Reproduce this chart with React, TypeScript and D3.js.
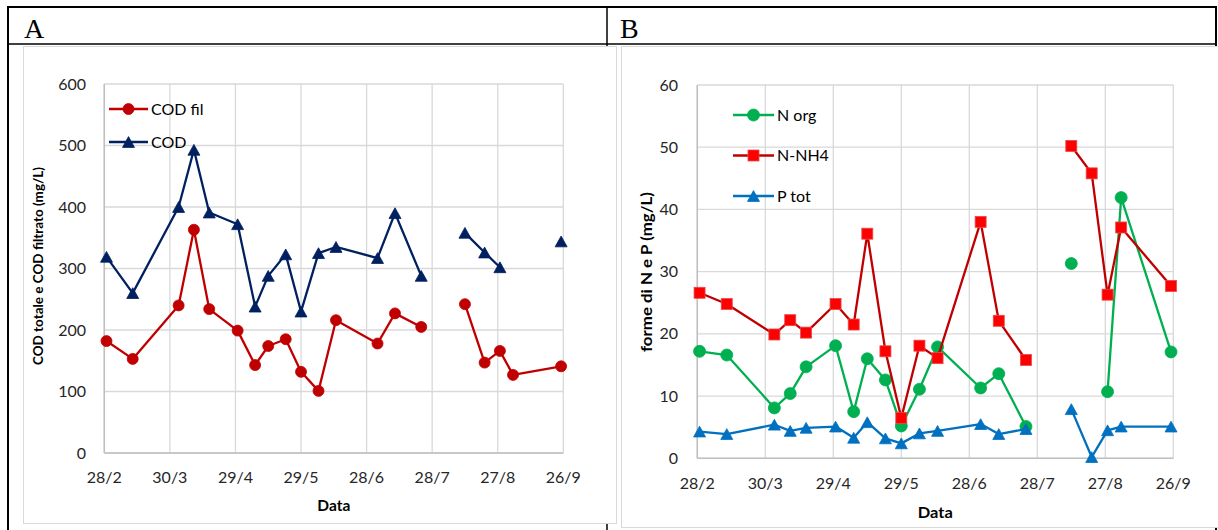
import React from 'react';
import * as d3 from 'd3';

// sampling dates (dd/m, year 2015); "2/8" is an empty row that breaks the lines
const dates = ['1/3', '13/3', '3/4', '10/4', '17/4', '30/4', '8/5', '14/5', '22/5', '29/5', '6/6', '14/6', '3/7', '11/7', '23/7', '2/8', '12/8', '21/8', '28/8', '3/9', '25/9'];
const xTicks = ['28/2', '30/3', '29/4', '29/5', '28/6', '28/7', '27/8', '26/9'];

const codFil = [182, 153, 240, 363, 234, 199, 143, 174, 185, 132, 101, 216, 178, 227, 205, null, 242, 147, 166, 127, 141];
const cod = [319, 260, 400, 493, 391, 372, 238, 288, 323, 230, 325, 335, 317, 390, 288, null, 358, 326, 302, null, 344];

const nOrg = [17.2, 16.6, 8.1, 10.4, 14.7, 18.1, 7.5, 16.0, 12.6, 5.2, 11.1, 17.9, 11.3, 13.6, 5.1, null, 31.3, null, 10.7, 41.9, 17.1];
const nNH4 = [26.6, 24.8, 19.9, 22.2, 20.2, 24.8, 21.5, 36.1, 17.2, 6.5, 18.1, 16.1, 38.0, 22.1, 15.8, null, 50.2, 45.8, 26.3, 37.1, 27.7];
const pTot = [4.3, 3.9, 5.4, 4.4, 4.9, 5.1, 3.3, 5.8, 3.2, 2.4, 4.0, 4.4, 5.5, 3.9, 4.7, null, 7.9, 0.2, 4.5, 5.1, 5.1];

const yTicksA = [0, 100, 200, 300, 400, 500, 600];
const yTicksB = [0, 10, 20, 30, 40, 50, 60];

const parse = (s: string) => {
  const [d, m] = s.split('/').map(Number);
  return new Date(Date.UTC(2015, m - 1, d));
};

const FONT = 'Lato, "Open Sans", sans-serif';

type Series = {
  name: string;
  values: (number | null)[];
  line: string;
  fill: string;
  stroke: string;
  marker: 'circle' | 'triangle' | 'square';
  size: number;
};

const Marker = ({ kind, x, y, size, fill, stroke }: any) => {
  if (kind === 'circle') return <circle cx={x} cy={y} r={size / 2} fill={fill} stroke={stroke} strokeWidth={0.8} />;
  if (kind === 'square')
    return <rect x={x - size / 2} y={y - size / 2} width={size} height={size} fill={fill} stroke={stroke} strokeWidth={0.8} />;
  const h = size * 0.9;
  return (
    <path
      d={`M${x},${y - h / 2}L${x + size / 2},${y + h / 2}L${x - size / 2},${y + h / 2}Z`}
      fill={fill}
      stroke={stroke}
      strokeWidth={0.8}
    />
  );
};

const Panel = ({ left, right, top, bottom, yMax, yTicks, series, yTitle, title, tickX, tickY, dataY, dataW, legend }: any) => {
  const x = d3.scaleUtc().domain([parse(xTicks[0]), parse(xTicks[xTicks.length - 1])]).range([left, right]);
  const y = d3.scaleLinear().domain([0, yMax]).range([bottom, top]);
  const xs = dates.map(parse);

  return (
    <g>
      {yTicks.map((t: number) => (
        <line key={'h' + t} x1={left} x2={right} y1={y(t)} y2={y(t)} stroke="#d9d9d9" strokeWidth={1.3} />
      ))}
      {xTicks.map((t) => (
        <line key={'v' + t} x1={x(parse(t))} x2={x(parse(t))} y1={top} y2={bottom} stroke="#d9d9d9" strokeWidth={1.3} />
      ))}
      <line x1={left} x2={left} y1={top} y2={bottom} stroke="#bfbfbf" strokeWidth={1.5} />
      <line x1={left} x2={right} y1={bottom} y2={bottom} stroke="#bfbfbf" strokeWidth={1.5} />

      {yTicks.map((t: number) => (
        <text key={'yl' + t} x={tickX} y={y(t)} dy="0.35em" textAnchor="end" fontSize={16} fill="#262626" fontFamily={FONT}>
          {t}
        </text>
      ))}
      {xTicks.map((t) => (
        <text key={'xl' + t} x={x(parse(t))} y={tickY} dy="0.35em" textAnchor="middle" fontSize={16} fill="#262626" fontFamily={FONT}>
          {t}
        </text>
      ))}
      <text
        x={(left + right) / 2}
        y={dataY}
        dy="0.35em"
        textAnchor="middle"
        fontSize={16}
        fontWeight="bold"
        fontFamily={FONT}
        textLength={dataW}
        lengthAdjust="spacingAndGlyphs"
      >
        Data
      </text>
      <text
        transform={`translate(${title.x},${title.cy}) rotate(-90)`}
        dy="0.35em"
        textAnchor="middle"
        fontSize={title.size}
        fontWeight="bold"
        fontFamily={FONT}
        textLength={title.len}
        lengthAdjust="spacingAndGlyphs"
      >
        {yTitle}
      </text>

      {series.map((s: Series) => {
        const line = d3
          .line<number | null>()
          .defined((v) => v != null)
          .x((_, i) => x(xs[i]))
          .y((v) => y(v as number));
        return (
          <g key={s.name}>
            <path d={line(s.values) || ''} fill="none" stroke={s.line} strokeWidth={2.3} strokeLinejoin="round" />
            {s.values.map((v, i) =>
              v == null ? null : (
                <Marker key={i} kind={s.marker} x={x(xs[i])} y={y(v)} size={s.size} fill={s.fill} stroke={s.stroke} />
              )
            )}
          </g>
        );
      })}

      {series.map((s: Series, i: number) => {
        const ly = legend.y + i * legend.step;
        return (
          <g key={'lg' + s.name}>
            <line x1={legend.x} x2={legend.x + legend.w} y1={ly} y2={ly} stroke={s.line} strokeWidth={2.3} />
            <Marker kind={s.marker} x={legend.x + legend.w / 2} y={ly} size={s.size} fill={s.fill} stroke={s.stroke} />
            <text x={legend.x + legend.w + 3} y={ly} dy="0.35em" fontSize={16} fill="#000" fontFamily={FONT}>
              {s.name}
            </text>
          </g>
        );
      })}
    </g>
  );
};

const seriesA: Series[] = [
  { name: 'COD fil', values: codFil, line: '#C00000', fill: '#C00000', stroke: '#C00000', marker: 'circle', size: 11 },
  { name: 'COD', values: cod, line: '#002060', fill: '#002060', stroke: '#002060', marker: 'triangle', size: 12 },
];

const seriesB: Series[] = [
  { name: 'N org', values: nOrg, line: '#00B050', fill: '#00B050', stroke: '#00B050', marker: 'circle', size: 12 },
  { name: 'N-NH4', values: nNH4, line: '#C00000', fill: '#FF0000', stroke: '#E84A4A', marker: 'square', size: 11 },
  { name: 'P tot', values: pTot, line: '#0070C0', fill: '#0070C0', stroke: '#0070C0', marker: 'triangle', size: 12 },
];

export default function App() {
  return (
    <svg width={1218} height={530} style={{ position: 'absolute', left: 0, top: 0, background: '#fff' }}>
      {/* table */}
      <rect x={8} y={7} width={1208} height={540} fill="none" stroke="#000" strokeWidth={2} />
      <line x1={8} x2={1216} y1={44} y2={44} stroke="#000" strokeWidth={1.5} />
      <line x1={607} x2={607} y1={7} y2={530} stroke="#000" strokeWidth={1.5} />
      <text x={24} y={38} fontSize={28} fontFamily='"Liberation Serif", serif'>A</text>
      <text x={620} y={38} fontSize={28} fontFamily='"Liberation Serif", serif'>B</text>

      {/* chart frames */}
      <rect x={23.5} y={46.5} width={593} height={477} fill="#fff" stroke="#d9d9d9" strokeWidth={1} />
      <rect x={621.5} y={46.5} width={610} height={481} fill="#fff" stroke="#d9d9d9" strokeWidth={1} />

      <Panel
        left={104.3}
        right={563.3}
        top={84}
        bottom={453}
        yMax={600}
        yTicks={yTicksA}
        series={seriesA}
        yTitle="COD totale e COD filtrato (mg/L)"
        title={{ x: 38, cy: 266, size: 14, len: 198 }}
        tickX={86}
        tickY={477}
        dataY={505}
        dataW={33}
        legend={{ x: 109, w: 39, y: 109, step: 33 }}
      />
      <Panel
        left={697.3}
        right={1173.3}
        top={85}
        bottom={458.3}
        yMax={60}
        yTicks={yTicksB}
        series={seriesB}
        yTitle="forme di N e P (mg/L)"
        title={{ x: 646, cy: 272, size: 16, len: 160 }}
        tickX={678}
        tickY={483}
        dataY={512}
        dataW={35}
        legend={{ x: 733, w: 41, y: 115, step: 40.5 }}
      />
    </svg>
  );
}
